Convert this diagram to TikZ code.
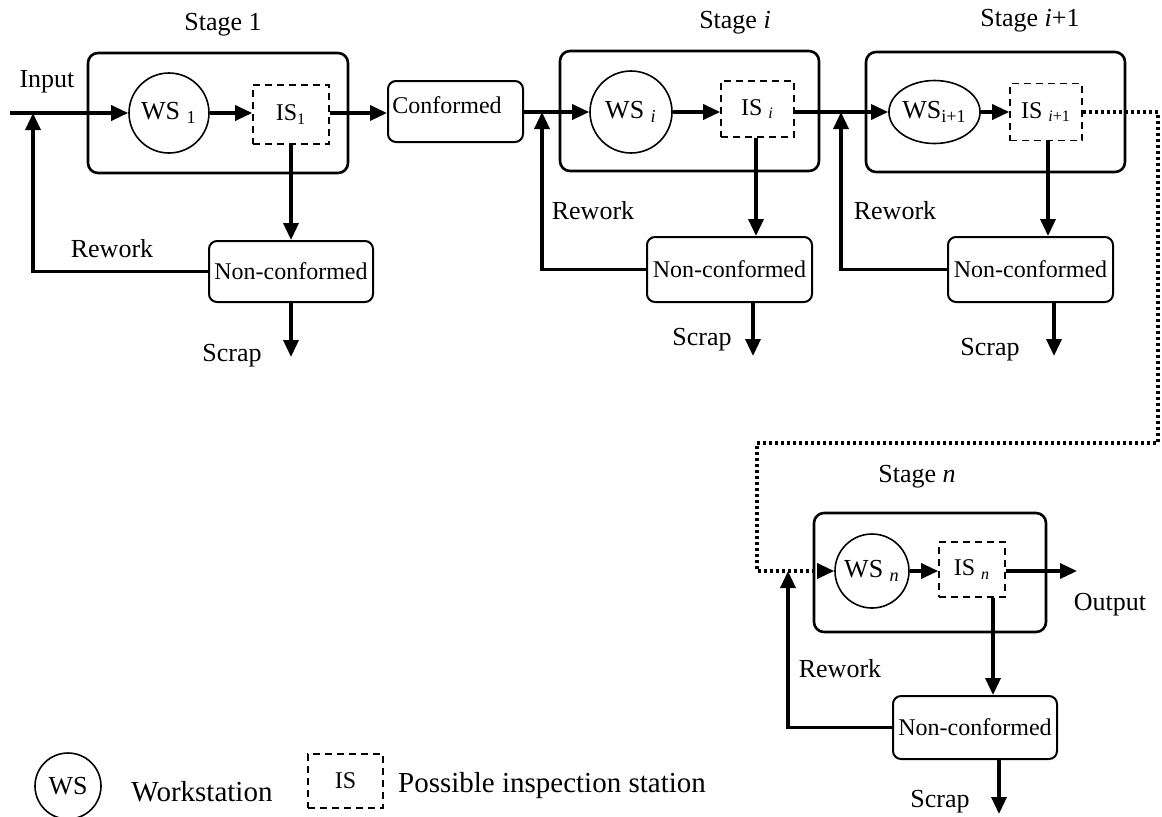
\documentclass[tikz,border=0pt]{standalone}
\usepackage{fontspec}
\setmainfont{Liberation Serif}
\usetikzlibrary{arrows.meta,shapes.geometric}
\begin{document}
\begin{tikzpicture}[x=0.5pt,y=-0.5pt,
  every node/.style={font=\fontsize{12pt}{14pt}\selectfont, inner sep=1pt},
  stagebox/.style={draw, rounded corners=5pt, line width=1.3pt},
  ws/.style={draw, circle, line width=0.8pt, inner sep=0pt, font=\fontsize{13pt}{15pt}\selectfont},
  wsell/.style={draw, ellipse, line width=0.8pt, inner sep=0pt, font=\fontsize{13pt}{15pt}\selectfont},
  isbox/.style={draw, dash pattern=on 3.5pt off 2.5pt, line width=0.8pt},
  rbox/.style={draw, rounded corners=4pt, line width=1pt},
  flow/.style={line width=1.7pt, -{Triangle[length=8.5pt,width=7.5pt]}},
  dotflow/.style={line width=1.7pt, dash pattern=on 1.6pt off 1.4pt, -{Triangle[length=8.5pt,width=7.5pt]}},
  lab/.style={inner sep=0pt, font=\fontsize{13pt}{15pt}\selectfont},
  bigtext/.style={font=\fontsize{14.5pt}{17pt}\selectfont, inner sep=0pt}]
\useasboundingbox (0,0) rectangle (1162,816);

% ---------- Stage boxes ----------
\node[stagebox, minimum width=130pt, minimum height=60pt] (st1) at (218,113) {};
\node[stagebox, minimum width=129.5pt, minimum height=60pt] (sti) at (689.5,111) {};
\node[stagebox, minimum width=129.5pt, minimum height=60pt] (stip) at (995.5,112) {};
\node[stagebox, minimum width=116pt, minimum height=59.5pt] (stn) at (930,572.5) {};

\node[lab] (lst1) at (223,25) {Stage 1};
\node[lab] (lsti) at (735,23) {Stage \textit{i}};
\node[lab] (lstip) at (1030,21) {Stage \textit{i}+1};
\node[lab] (lstn) at (917,477) {Stage \textit{n}};

% ---------- Workstations ----------
\node[ws, minimum size=40pt] (ws1) at (169,113) {WS \textsubscript{1}};
\node[ws, minimum size=41pt] (wsi) at (631,112) {WS \textsubscript{\textit{i}}};
\node[wsell, minimum width=40.5pt, minimum height=31.5pt] (wsip) at (934.5,112) {WS\textsubscript{i+1}};
\node[ws, minimum size=37pt] (wsn) at (872,571) {WS \textsubscript{\textit{n}}};

% ---------- Inspection stations ----------
\node[isbox, minimum width=38pt, minimum height=29.5pt] (is1) at (291,114.5) {IS\textsubscript{1}};
\node[isbox, minimum width=36.5pt, minimum height=28pt] (isi) at (757.5,109) {IS \textsubscript{\textit{i}}};
\node[isbox, minimum width=36pt, minimum height=28.5pt] (isip) at (1046,112) {IS \textsubscript{\textit{i}+1}};
\node[isbox, minimum width=33pt, minimum height=27.5pt] (isn) at (972,569.5) {IS \textsubscript{\textit{n}}};

% ---------- Conformed / Non-conformed ----------
\node[rbox, minimum width=67.5pt, minimum height=30.5pt] (conf) at (455.5,111.5) {};
\node[inner sep=0pt] (conft) at (447,105) {Conformed};
\node[rbox, minimum width=82pt, minimum height=30.5pt] (nc1) at (291,271.5) {Non-conformed};
\node[rbox, minimum width=82.5pt, minimum height=32.5pt] (nci) at (729.5,269.5) {Non-conformed};
\node[rbox, minimum width=82.5pt, minimum height=32.5pt] (ncip) at (1030.5,269.5) {Non-conformed};
\node[rbox, minimum width=82pt, minimum height=31.5pt] (ncn) at (975,727.5) {Non-conformed};

% ---------- Labels ----------
\node[lab] (linput) at (47,82) {Input};
\node[lab] (loutput) at (1110,605) {Output};
\node[lab] (rw1) at (112,249) {Rework};
\node[lab] (rwi) at (593,211) {Rework};
\node[lab] (rwip) at (895,211) {Rework};
\node[lab] (rwn) at (840,669) {Rework};
\node[lab] (sc1) at (232,356) {Scrap};
\node[lab] (sci) at (702,340) {Scrap};
\node[lab] (scip) at (990,350) {Scrap};
\node[lab] (scn) at (940,802) {Scrap};

% ---------- Coordinates ----------
\coordinate (in) at (10,113);
\coordinate (j1) at (33,113);
\coordinate (ji) at (542,112);
\coordinate (jip) at (841,112);
\coordinate (jn) at (788,571);
\coordinate (d1) at (1158,112);
\coordinate (d2) at (1158,443);
\coordinate (d3) at (757,443);
\coordinate (d4) at (757,571);
\coordinate (outend) at (1077,571);
\coordinate (s1) at (291,357);
\coordinate (si) at (753,356);
\coordinate (sip) at (1054,356);
\coordinate (sn) at (999,814);
\coordinate (dn) at (993,600);

% ---------- Flow ----------
\draw[flow] (in) -- (ws1.west);
\draw[flow] (ws1.east) -- (is1.west |- ws1.east);
\draw[flow] (is1.east |- in) -- (conf.west |- in);
\draw[flow] (conf.east |- wsi.west) -- (wsi.west);
\draw[flow] (wsi.east) -- (isi.west |- wsi.east);
\draw[flow] (isi.east |- wsip.west) -- (wsip.west);
\draw[flow] (wsip.east) -- (isip.west);
\draw[dotflow] (isip.east) -- (d1) -- (d2) -- (d3) -- (d4) -- (wsn.west);
\draw[flow] (wsn.east) -- (isn.west |- wsn.east);
\draw[flow] (isn.east |- outend) -- (outend);

% down to non-conformed
\draw[flow] (is1.south) -- (nc1.north);
\draw[flow] (isi.south -| si) ++(3,0) coordinate (ti) -- (ti |- nci.north);
\draw[flow] (isip.south -| sip) ++(-6,0) coordinate (tip) -- (tip |- ncip.north);
\draw[flow] (isn.south -| dn) -- (dn |- ncn.north);

% rework
\draw[flow] (nc1.west) -| (j1);
\draw[flow] (nci.west) -| (ji);
\draw[flow] (ncip.west) -| (jip);
\draw[flow] (ncn.west) -| (jn);

% scrap
\draw[flow] (nc1.south) -- (s1);
\draw[flow] (si |- nci.south) -- (si);
\draw[flow] (sip |- ncip.south) -- (sip);
\draw[flow] (sn |- ncn.south) -- (sn);

% ---------- Legend ----------
\node[ws, minimum size=33pt] (lws) at (68,786) {WS};
\node[bigtext] (lwst) at (202,792) {Workstation};
\node[isbox, minimum width=37.5pt, minimum height=27pt] (lis) at (345.5,781) {IS\hspace{8.5pt}};
\node[bigtext] (list) at (552,786) {Possible inspection station};
\end{tikzpicture}
\end{document}
